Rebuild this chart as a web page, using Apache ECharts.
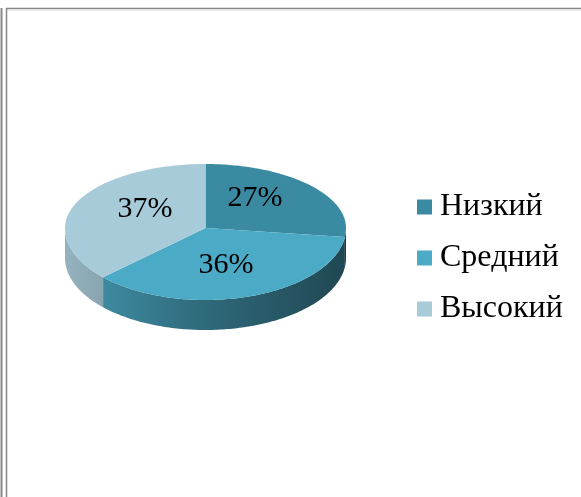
<!DOCTYPE html>
<html>
<head>
<meta charset="utf-8">
<script src="https://cdn.jsdelivr.net/npm/echarts@6/dist/echarts.min.js"></script>
<style>
  html, body { margin: 0; padding: 0; background: #fff; }
  #chart { width: 581px; height: 497px; }
</style>
</head>
<body>
<div id="chart"></div>
<script>
  // данные диаграммы
  const categories = ['Низкий', 'Средний', 'Высокий'];
  const values = [27, 36, 37];
  const topColors = ['#3a8ba1', '#4baac5', '#a8cbd9'];

  // геометрия "3D" круга
  const CX = 205.5, CY = 228, RX = 140.5, RY_UP = 64, RY_DOWN = 72, DEPTH = 30;
  const FONT = "'Times New Roman', 'Liberation Serif', serif";

  const total = values.reduce((a, b) => a + b, 0);
  const startAngles = [];
  let acc = 0;
  values.forEach((v) => {
    startAngles.push(90 - 360 * acc / total);
    acc += v;
  });
  const endAngle = (i) => 90 - 360 * (values.slice(0, i + 1).reduce((a, b) => a + b, 0)) / total;

  function pt(deg, dy) {
    const t = deg * Math.PI / 180;
    const s = Math.sin(t);
    return [CX + RX * Math.cos(t), CY - (s >= 0 ? RY_UP : RY_DOWN) * s + (dy || 0)];
  }
  function arc(a0, a1, dy) {
    const n = Math.max(2, Math.ceil(Math.abs(a1 - a0)));
    const pts = [];
    for (let k = 0; k <= n; k++) pts.push(pt(a0 + (a1 - a0) * k / n, dy));
    return pts;
  }
  function shade(hex, f) {
    const n = parseInt(hex.slice(1), 16);
    const c = [(n >> 16) & 255, (n >> 8) & 255, n & 255].map((x) => Math.round(x * f));
    return 'rgb(' + c.join(',') + ')';
  }

  // боковая стенка (видимая передняя часть)
  function renderSide(params, api) {
    const i = params.dataIndex;
    const hi = Math.min(startAngles[i], 0);
    const lo = Math.max(endAngle(i), -180);
    if (hi <= lo) return null;
    const top = arc(hi, lo, 0);
    const bottom = arc(lo, hi, DEPTH);
    const c = topColors[i];
    return {
      type: 'polygon',
      shape: { points: top.concat(bottom) },
      style: {
        fill: {
          type: 'linear', x: CX - RX, y: 0, x2: CX + RX, y2: 0, global: true,
          colorStops: [
            { offset: 0, color: shade(c, 0.88) },
            { offset: 0.5, color: shade(c, 0.62) },
            { offset: 1, color: shade(c, 0.42) }
          ]
        }
      }
    };
  }

  // верхняя грань сектора с подписью
  function makeTop(i) {
    return function (params, api) {
      const a0 = startAngles[i], a1 = endAngle(i);
      const mid = (a0 + a1) / 2 * Math.PI / 180;
      const lx = CX + 0.47 * RX * Math.cos(mid);
      const ly = CY - 2.5 - 0.61 * 68 * Math.sin(mid);
      return {
        type: 'group',
        children: [
          {
            type: 'polygon',
            shape: { points: [[CX, CY]].concat(arc(a0, a1, 0)) },
            style: { fill: topColors[i] }
          },
          {
            type: 'text',
            x: lx, y: ly,
            style: {
              text: Math.round(values[i] / total * 100) + '%',
              fill: '#000', font: '30px ' + FONT,
              align: 'center', verticalAlign: 'middle'
            },
            z2: 10
          }
        ]
      };
    };
  }

  const series = [{
    type: 'custom',
    name: 'side',
    coordinateSystem: 'none',
    z: 1,
    silent: true,
    data: values,
    renderItem: renderSide
  }];
  categories.forEach((name, i) => {
    series.push({
      type: 'custom',
      name: name,
      coordinateSystem: 'none',
      z: 2,
      silent: true,
      itemStyle: { color: topColors[i] },
      data: [values[i]],
      renderItem: makeTop(i)
    });
  });

  const chart = echarts.init(document.getElementById('chart'), null, { renderer: 'canvas' });
  chart.setOption({
    animation: false,
    backgroundColor: '#fff',
    legend: {
      data: categories,
      orient: 'vertical',
      left: 412,
      top: 186,
      icon: 'rect',
      itemWidth: 15,
      itemHeight: 15,
      itemGap: 19,
      selectedMode: false,
      textStyle: { fontSize: 32, fontFamily: FONT, color: '#000', lineHeight: 32, padding: [0, 0, 0, 3] }
    },
    graphic: [
      { type: 'line', shape: { x1: 6, y1: 8.5, x2: 581, y2: 8.5 }, style: { stroke: '#888', lineWidth: 1.5 } },
      { type: 'line', shape: { x1: 6, y1: 10, x2: 581, y2: 10 }, style: { stroke: '#ddd', lineWidth: 1 } },
      { type: 'line', shape: { x1: 1.5, y1: 8, x2: 1.5, y2: 497 }, style: { stroke: '#888', lineWidth: 2 } },
      { type: 'line', shape: { x1: 6.5, y1: 8, x2: 6.5, y2: 497 }, style: { stroke: '#888', lineWidth: 1.5 } }
    ],
    series: series
  });
</script>
</body>
</html>
